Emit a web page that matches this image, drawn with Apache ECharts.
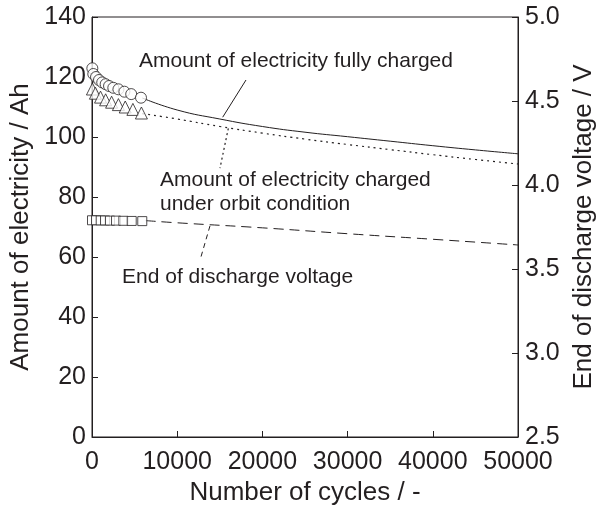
<!DOCTYPE html>
<html>
<head>
<meta charset="utf-8">
<script src="https://cdn.jsdelivr.net/npm/echarts@6/dist/echarts.min.js"></script>
<style>html,body{margin:0;padding:0;background:#fff}#c{width:600px;height:509px}</style>
</head>
<body>
<div id="c"></div>
<script>
// ---- data ----
var circleCycles = [40, 150, 470, 820, 1200, 1600, 2000, 2500, 3100, 3800, 4600, 5750];
var circleAh     = [122.9, 121.0, 120.0, 119.0, 118.2, 117.6, 117.0, 116.4, 115.9, 115.1, 114.3, 113.1];
var triCycles = [50, 400, 1000, 1600, 2300, 3100, 3900, 4800, 5800];
var triAh     = [116.0, 114.6, 113.3, 112.4, 111.6, 110.8, 110.0, 109.2, 108.0];
var sqCycles = [0, 470, 1020, 1530, 2110, 2820, 3680, 4660, 5900];
var sqVolt   = [3.790, 3.790, 3.789, 3.789, 3.788, 3.788, 3.787, 3.786, 3.785];
var fullCycles = [5900, 10000, 15000, 20000, 25000, 30000, 35000, 40000, 45000, 50000];
var fullAh     = [113.0, 109.0, 106.0, 103.5, 101.6, 100.1, 98.6, 97.1, 95.7, 94.4];
var orbitCycles = [5900, 10000, 15000, 20000, 25000, 30000, 35000, 40000, 45000, 50000];
var orbitAh     = [107.8, 106.0, 103.5, 101.3, 99.3, 97.5, 95.8, 94.1, 92.5, 91.0];
var voltCycles = [6300, 10000, 20000, 30000, 40000, 50000];
var voltV      = [3.788, 3.775, 3.745, 3.710, 3.677, 3.643];
// annotation pointer lines (data coordinates)
var ptrFullCycles = [15340, 18075];
var ptrFullAh     = [106.6, 119.0];
var ptrOrbitCycles = [16000, 15020];
var ptrOrbitAh     = [102.9, 89.6];
var ptrVoltCycles = [13850, 12680];
var ptrVoltV      = [3.757, 3.553];
var xTicks = [0, 10000, 20000, 30000, 40000, 50000];
var leftTicks = [0, 20, 40, 60, 80, 100, 120, 140];
var rightTicks = [2.5, 3.0, 3.5, 4.0, 4.5, 5.0];
var labels = {
  full: 'Amount of electricity fully charged',
  orbit1: 'Amount of electricity charged',
  orbit2: 'under orbit condition',
  volt: 'End of discharge voltage'
};

function zip(a, b) { return a.map(function (v, i) { return [v, b[i]]; }); }

var FONT = 'Liberation Sans, Arial, sans-serif';
var INK = '#231f20';
var TICK_FS = 25, NAME_FS = 26, ANN_FS = 21;

var chart = echarts.init(document.getElementById('c'), null, { renderer: 'canvas' });
var markerStyle = { color: '#fff', borderColor: INK, borderWidth: 1 };

chart.setOption({
  animation: false,
  backgroundColor: '#fff',
  grid: { left: 92, right: 82, top: 17, bottom: 72, show: true, borderColor: INK, borderWidth: 1,
    containLabel: false, outerBoundsMode: 'none' },
  xAxis: {
    type: 'value', min: 0, max: 50000, interval: 10000,
    name: 'Number of cycles / -', nameLocation: 'middle', nameGap: 43,
    nameTextStyle: { fontFamily: FONT, fontSize: NAME_FS, color: INK },
    axisLine: { show: true, lineStyle: { color: INK, width: 1 } },
    axisTick: { show: true, inside: true, length: 6, lineStyle: { color: INK } },
    axisLabel: { fontFamily: FONT, fontSize: TICK_FS, color: INK, margin: 13,
      formatter: function (v) { return xTicks.indexOf(v) >= 0 ? String(v) : ''; } },
    splitLine: { show: false }
  },
  yAxis: [{
    type: 'value', min: 0, max: 140, interval: 20, position: 'left',
    name: 'Amount of electricity / Ah', nameLocation: 'middle', nameGap: 52,
    nameTextStyle: { fontFamily: FONT, fontSize: NAME_FS, color: INK },
    axisLine: { show: true, lineStyle: { color: INK, width: 1 } },
    axisTick: { show: true, inside: true, length: 6, lineStyle: { color: INK } },
    axisLabel: { fontFamily: FONT, fontSize: TICK_FS, color: INK, margin: 6,
      formatter: function (v) { return leftTicks.indexOf(v) >= 0 ? String(v) : ''; } },
    splitLine: { show: false }
  }, {
    type: 'value', min: 2.5, max: 5.0, interval: 0.5, position: 'right',
    name: 'End of discharge voltage / V', nameLocation: 'middle', nameGap: 49,
    nameTextStyle: { fontFamily: FONT, fontSize: NAME_FS, color: INK },
    axisLine: { show: true, lineStyle: { color: INK, width: 1 } },
    axisTick: { show: true, inside: true, length: 6, lineStyle: { color: INK } },
    axisLabel: { fontFamily: FONT, fontSize: TICK_FS, color: INK, margin: 7,
      formatter: function (v) { return v.toFixed(1); } },
    splitLine: { show: false }
  }],
  series: [
    { type: 'line', yAxisIndex: 0, data: zip(fullCycles, fullAh), smooth: true, showSymbol: false,
      lineStyle: { color: INK, width: 1 }, z: 2 },
    { type: 'line', yAxisIndex: 0, data: zip(orbitCycles, orbitAh), smooth: true, showSymbol: false,
      lineStyle: { color: INK, width: 1.2, type: [2, 4] }, z: 2 },
    { type: 'line', yAxisIndex: 1, data: zip(voltCycles, voltV), smooth: true, showSymbol: false,
      lineStyle: { color: INK, width: 1, type: [10, 6] }, z: 2 },
    { type: 'line', yAxisIndex: 0, data: zip(ptrFullCycles, ptrFullAh), showSymbol: false,
      lineStyle: { color: INK, width: 1 }, z: 2 },
    { type: 'line', yAxisIndex: 0, data: zip(ptrOrbitCycles, ptrOrbitAh), showSymbol: false,
      lineStyle: { color: INK, width: 1.2, type: [2, 3] }, z: 2 },
    { type: 'line', yAxisIndex: 1, data: zip(ptrVoltCycles, ptrVoltV), showSymbol: false,
      lineStyle: { color: INK, width: 1, type: [5, 4] }, z: 2 },
    { type: 'scatter', yAxisIndex: 0, data: zip(triCycles, triAh), symbol: 'triangle', symbolSize: 12,
      itemStyle: markerStyle, z: 3 },
    { type: 'scatter', yAxisIndex: 0, data: zip(circleCycles, circleAh), symbol: 'circle', symbolSize: 11,
      itemStyle: markerStyle, z: 4 },
    { type: 'scatter', yAxisIndex: 1, data: zip(sqCycles, sqVolt), symbol: 'rect', symbolSize: 9,
      itemStyle: markerStyle, z: 3 }
  ],
  graphic: [
    { type: 'text', left: 139, top: 51, style: { text: labels.full, font: ANN_FS + 'px ' + FONT, fill: INK } },
    { type: 'text', left: 160, top: 170, style: { text: labels.orbit1, font: ANN_FS + 'px ' + FONT, fill: INK } },
    { type: 'text', left: 160, top: 194, style: { text: labels.orbit2, font: ANN_FS + 'px ' + FONT, fill: INK } },
    { type: 'text', left: 122, top: 267, style: { text: labels.volt, font: ANN_FS + 'px ' + FONT, fill: INK } }
  ]
});
</script>
</body>
</html>
